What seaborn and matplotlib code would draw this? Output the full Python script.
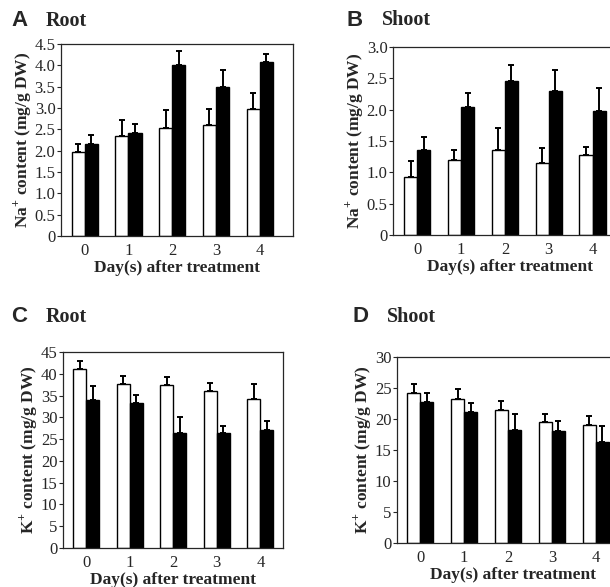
import pandas as pd
import numpy as np
import matplotlib
matplotlib.use('Agg')
import matplotlib.pyplot as plt
import seaborn as sns
from matplotlib.ticker import FuncFormatter

sns.set_style('ticks')
plt.rcParams['font.family'] = ['Liberation Serif', 'DejaVu Serif']
plt.rcParams['mathtext.fontset'] = 'custom'
plt.rcParams['mathtext.rm'] = 'Liberation Serif'
plt.rcParams['mathtext.bf'] = 'Liberation Serif:bold'

days = [0, 1, 2, 3, 4]
groups = ['control', 'treated']

# Na+ root (A)
na_root_ctrl = [1.96, 2.34, 2.52, 2.60, 2.98]
na_root_ctrl_err = [0.19, 0.39, 0.43, 0.37, 0.37]
na_root_trt = [2.16, 2.42, 4.01, 3.49, 4.07]
na_root_trt_err = [0.20, 0.20, 0.33, 0.39, 0.19]

# Na+ shoot (B)
na_shoot_ctrl = [0.92, 1.19, 1.36, 1.15, 1.27]
na_shoot_ctrl_err = [0.26, 0.16, 0.35, 0.24, 0.14]
na_shoot_trt = [1.36, 2.04, 2.46, 2.30, 1.98]
na_shoot_trt_err = [0.21, 0.22, 0.26, 0.34, 0.36]

# K+ root (C)
k_root_ctrl = [41.1, 37.7, 37.5, 36.0, 34.2]
k_root_ctrl_err = [1.8, 1.9, 1.8, 1.8, 3.4]
k_root_trt = [33.9, 33.3, 26.3, 26.3, 27.2]
k_root_trt_err = [3.2, 1.9, 3.7, 1.8, 2.0]

# K+ shoot (D)
k_shoot_ctrl = [24.2, 23.2, 21.4, 19.5, 19.0]
k_shoot_ctrl_err = [1.5, 1.6, 1.5, 1.3, 1.5]
k_shoot_trt = [22.8, 21.2, 18.3, 18.05, 16.3]
k_shoot_trt_err = [1.4, 1.4, 2.5, 1.55, 2.6]

W, H = 610, 587
fig = plt.figure(figsize=(6.1, 5.87), dpi=100)


def make_df(ctrl, ctrl_err, trt, trt_err):
    rows = []
    for d, v, e in zip(days, ctrl, ctrl_err):
        rows.append({'day': d, 'group': 'control', 'value': v, 'err': e})
    for d, v, e in zip(days, trt, trt_err):
        rows.append({'day': d, 'group': 'treated', 'value': v, 'err': e})
    return pd.DataFrame(rows)


def panel(box, xlim, df, ymax, ystep, ylabel, fmt):
    l, t, r, b = box
    ax = fig.add_axes([l / W, 1 - b / H, (r - l) / W, (b - t) / H])
    sns.barplot(data=df, x='day', y='value', hue='group', hue_order=groups,
                palette=['white', 'black'], edgecolor='black', linewidth=1,
                width=0.6, gap=0, errorbar=None, legend=False, ax=ax)
    # upper-only error bars
    for p in ax.patches:
        xc = p.get_x() + p.get_width() / 2
        d = int(round(xc))
        g = 'control' if xc < d else 'treated'
        row = df[(df.day == d) & (df.group == g)].iloc[0]
        ax.errorbar(xc, row.value, yerr=[[0], [row.err]], fmt='none',
                    ecolor='black', elinewidth=1.4, capsize=2.5, capthick=1.4)
    ax.set_xlim(*xlim)
    ax.set_ylim(0, ymax)
    ax.set_yticks(np.arange(0, ymax + ystep / 2, ystep))
    ax.yaxis.set_major_formatter(FuncFormatter(fmt))
    ax.tick_params(axis='y', length=3, width=0.8, labelsize=12, pad=1)
    ax.tick_params(axis='x', length=0, labelsize=12, pad=5)
    for s in ax.spines.values():
        s.set_visible(True)
        s.set_linewidth(0.9)
    ax.set_xlabel('Day(s) after treatment', fontsize=12.5, fontweight='bold', labelpad=1)
    ax.set_ylabel(ylabel, fontsize=12.5, fontweight='bold', labelpad=1)
    return ax


fmt_na = lambda v, pos: '0' if v == 0 else f'{v:.1f}'
fmt_k = lambda v, pos: f'{v:.0f}'

panel((61, 44, 293, 236), (-0.54, 4.76),
      make_df(na_root_ctrl, na_root_ctrl_err, na_root_trt, na_root_trt_err),
      4.5, 0.5, r'Na$^{\mathbf{+}}$ content (mg/g DW)', fmt_na)
panel((393, 47, 626, 235), (-0.55, 4.76),
      make_df(na_shoot_ctrl, na_shoot_ctrl_err, na_shoot_trt, na_shoot_trt_err),
      3.0, 0.5, r'Na$^{\mathbf{+}}$ content (mg/g DW)', fmt_na)
panel((63, 352, 283, 548), (-0.53, 4.52),
      make_df(k_root_ctrl, k_root_ctrl_err, k_root_trt, k_root_trt_err),
      45, 5, r'K$^{\mathbf{+}}$ content (mg/g DW)', fmt_k)
panel((397, 357, 629, 543), (-0.53, 4.76),
      make_df(k_shoot_ctrl, k_shoot_ctrl_err, k_shoot_trt, k_shoot_trt_err),
      30, 5, r'K$^{\mathbf{+}}$ content (mg/g DW)', fmt_k)

letters = [('A', 'Root', 11, 21), ('B', 'Shoot', 347, 20),
           ('C', 'Root', 11, 317), ('D', 'Shoot', 352, 317)]
for let, name, x, y in letters:
    fig.text(x / W, 1 - y / H, let, fontsize=16, fontweight='bold',
             family=['Liberation Sans', 'DejaVu Sans'], va='center', ha='left')
    fig.text((x + 35) / W, 1 - y / H, name, fontsize=14.5, fontweight='bold',
             va='center', ha='left')

fig.savefig('out.png', dpi=100)
